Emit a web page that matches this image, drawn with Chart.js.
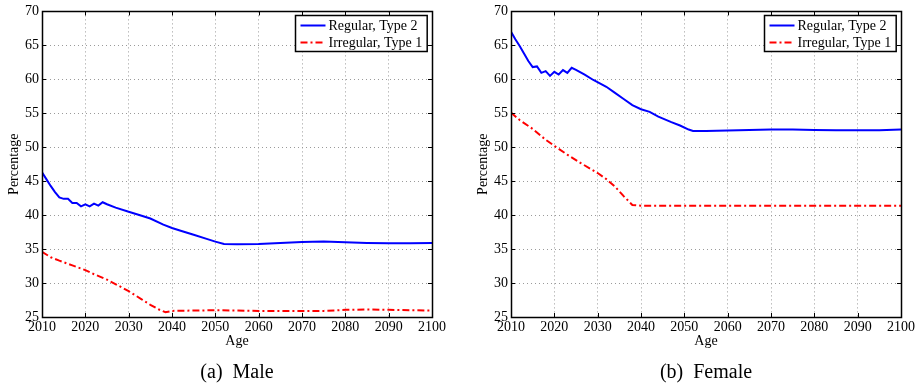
<!DOCTYPE html>
<html>
<head>
<meta charset="utf-8">
<script src="https://cdn.jsdelivr.net/npm/chart.js@4/dist/chart.umd.min.js"></script>
<style>
    body { margin: 0; background: #fff; }
    #wrap { position: relative; width: 918px; height: 390px; }
    canvas { position: absolute; top: 0; }
    .caption {
        position: absolute; top: 360px; width: 390px; text-align: center;
        font-family: "Liberation Serif", "DejaVu Serif", serif; font-size: 20px; color: #000;
        white-space: pre;
    }
</style>
</head>
<body>
<div id="wrap">
    <canvas id="chart_male" width="449" height="390" style="left:0px"></canvas>
    <canvas id="chart_female" width="449" height="390" style="left:469px"></canvas>
    <div class="caption" style="left:42px">(a)  Male</div>
    <div class="caption" style="left:511px">(b)  Female</div>
</div>
<script>
var seriesNames = ["Regular, Type 2", "Irregular, Type 1"];
var xTicks = [2010, 2020, 2030, 2040, 2050, 2060, 2070, 2080, 2090, 2100];
var yTicks = [25, 30, 35, 40, 45, 50, 55, 60, 65, 70];

// male
var maleRegYears = [2010, 2011, 2012, 2013, 2014, 2015, 2016, 2017, 2018, 2019, 2020, 2021, 2022, 2023, 2024, 2025,
    2027, 2030, 2033, 2035, 2038, 2040, 2042, 2045, 2048, 2050, 2052, 2055, 2060, 2065, 2070, 2075, 2080, 2085, 2090, 2095, 2100];
var maleRegValues = [46.3, 45.3, 44.3, 43.4, 42.6, 42.4, 42.4, 41.8, 41.8, 41.3, 41.6, 41.3, 41.7, 41.4, 41.9, 41.6,
    41.1, 40.5, 39.9, 39.5, 38.6, 38.1, 37.7, 37.1, 36.5, 36.1, 35.75, 35.7, 35.75, 35.9, 36.05, 36.1, 36.0, 35.9, 35.85, 35.85, 35.9];
var maleIrrYears = [2010, 2012, 2014, 2017, 2020, 2022, 2025, 2028, 2030, 2033, 2035, 2037, 2038.5, 2040, 2045, 2050,
    2055, 2060, 2065, 2070, 2075, 2080, 2085, 2090, 2095, 2100];
var maleIrrValues = [34.6, 33.8, 33.3, 32.6, 31.9, 31.3, 30.5, 29.5, 28.8, 27.6, 26.8, 26.1, 25.7, 25.9, 25.95, 26.0,
    25.95, 25.9, 25.9, 25.9, 25.9, 26.05, 26.1, 26.05, 26.0, 25.95];

// female
var femaleRegYears = [2010, 2011, 2012, 2013, 2014, 2015, 2016, 2017, 2018, 2019, 2020, 2021, 2022, 2023, 2024, 2025,
    2027, 2029, 2032, 2034, 2036, 2038, 2040, 2042, 2044, 2047, 2049, 2051, 2052, 2055, 2060, 2065, 2070, 2075, 2080, 2085, 2090, 2095, 2100];
var femaleRegValues = [67.0, 65.9, 64.9, 63.8, 62.7, 61.8, 61.9, 60.95, 61.2, 60.5, 61.1, 60.7, 61.35, 60.95, 61.7, 61.4,
    60.7, 59.9, 58.9, 58.0, 57.1, 56.2, 55.6, 55.2, 54.5, 53.7, 53.2, 52.6, 52.4, 52.4, 52.45, 52.55, 52.6, 52.6, 52.55, 52.5, 52.5, 52.5, 52.6];
var femaleIrrYears = [2010, 2012, 2015, 2018, 2020, 2023, 2026, 2030, 2032, 2034, 2036, 2038, 2040, 2050, 2060, 2070, 2080, 2090, 2100];
var femaleIrrValues = [55.1, 54.0, 52.7, 51.1, 50.2, 48.9, 47.7, 46.2, 45.3, 44.2, 42.8, 41.5, 41.4, 41.4, 41.4, 41.4, 41.4, 41.4, 41.4];

var serif = "'Liberation Serif', 'DejaVu Serif', serif";

function toPoints(xs, ys) {
    let pts = [];
    for (var i = 0; i < xs.length; i++) {
        pts.push({x: xs[i], y: ys[i]});
    }
    return pts;
}

// box round the plot area + inward ticks, like matlab
var framePlugin = {
    id: "frame",
    afterDatasetsDraw: function (chart) {
        var ctx = chart.ctx;
        var a = chart.chartArea;
        var xs = chart.scales.x, ys = chart.scales.y;
        ctx.save();
        ctx.strokeStyle = "#000";
        ctx.lineWidth = 1;
        ctx.setLineDash([]);
        ctx.beginPath();
        xTicks.forEach(function (t) {
            var px = Math.round(xs.getPixelForValue(t)) + 0.5;
            ctx.moveTo(px, a.bottom); ctx.lineTo(px, a.bottom - 4);
            ctx.moveTo(px, a.top); ctx.lineTo(px, a.top + 4);
        });
        yTicks.forEach(function (t) {
            var py = Math.round(ys.getPixelForValue(t)) + 0.5;
            ctx.moveTo(a.left, py); ctx.lineTo(a.left + 4, py);
            ctx.moveTo(a.right, py); ctx.lineTo(a.right - 4, py);
        });
        ctx.stroke();
        ctx.lineWidth = 1.5;
        ctx.strokeRect(Math.round(a.left) + 0.5, Math.round(a.top) + 0.5,
            Math.round(a.right - a.left), Math.round(a.bottom - a.top));
        ctx.restore();
    }
};

var legendBoxPlugin = {
    id: "legendBox",
    afterDraw: function (chart) {
        var ctx = chart.ctx;
        var a = chart.chartArea;
        ctx.save();
        ctx.font = "14px " + serif;
        var tw = 0;
        chart.data.datasets.forEach(function (ds) {
            tw = Math.max(tw, ctx.measureText(ds.label).width);
        });
        var w = 33 + tw + 5, h = 36;
        var x0 = Math.round(a.right - 5 - w) + 0.5, y0 = Math.round(a.top + 4) + 0.5;
        ctx.fillStyle = "#fff";
        ctx.fillRect(x0, y0, w, h);
        ctx.strokeStyle = "#000";
        ctx.lineWidth = 1.5;
        ctx.strokeRect(x0, y0, w, h);
        chart.data.datasets.forEach(function (ds, i) {
            var yy = y0 + 10 + i * 17;
            ctx.strokeStyle = ds.borderColor;
            ctx.lineWidth = 2;
            ctx.setLineDash(ds.borderDash || []);
            ctx.beginPath();
            ctx.moveTo(x0 + 5, yy);
            ctx.lineTo(x0 + 30, yy);
            ctx.stroke();
            ctx.setLineDash([]);
            ctx.fillStyle = "#000";
            ctx.textBaseline = "middle";
            ctx.fillText(ds.label, x0 + 33, yy + 1);
        });
        ctx.restore();
    }
};

function makeChart(id, regPts, irrPts) {
    var ctx = document.getElementById(id).getContext("2d");
    var gridStyle = {
        color: "#9a9a9a",
        lineWidth: 1,
        drawTicks: false,
        tickLength: 0
    };
    return new Chart(ctx, {
        type: "line",
        data: {
            datasets: [
                {
                    label: seriesNames[0],
                    data: regPts,
                    borderColor: "#0000ff",
                    borderWidth: 2,
                    pointRadius: 0,
                    tension: 0,
                    fill: false
                },
                {
                    label: seriesNames[1],
                    data: irrPts,
                    borderColor: "#ff0000",
                    borderWidth: 2,
                    borderDash: [7, 3, 2, 3],
                    pointRadius: 0,
                    tension: 0,
                    fill: false
                }
            ]
        },
        options: {
            responsive: false,
            animation: false,
            layout: {padding: {left: 0, right: 17, top: 10, bottom: 33}},
            plugins: {
                legend: {display: false},
                tooltip: {enabled: false}
            },
            scales: {
                x: {
                    type: "linear",
                    min: 2010,
                    max: 2100,
                    afterBuildTicks: function (scale) {
                        scale.ticks = xTicks.map(function (v) { return {value: v}; });
                    },
                    ticks: {
                        color: "#000",
                        font: {family: serif, size: 14},
                        padding: 2,
                        maxRotation: 0,
                        autoSkip: false,
                        callback: function (v) { return String(v); }
                    },
                    grid: gridStyle,
                    border: {display: false, dash: [1, 3]},
                    title: {
                        display: true,
                        text: "Age",
                        color: "#000",
                        font: {family: serif, size: 14},
                        padding: {top: 0, bottom: 7}
                    },
                    afterFit: function (scale) { scale.height = 40; }
                },
                y: {
                    min: 25,
                    max: 70,
                    afterBuildTicks: function (scale) {
                        scale.ticks = yTicks.map(function (v) { return {value: v}; });
                    },
                    ticks: {
                        color: "#000",
                        font: {family: serif, size: 14},
                        padding: 3
                    },
                    grid: gridStyle,
                    border: {display: false, dash: [1, 3]},
                    title: {
                        display: true,
                        text: "Percentage",
                        color: "#000",
                        font: {family: serif, size: 14},
                        padding: {top: 6, bottom: 0}
                    },
                    afterFit: function (scale) { scale.width = 42; }
                }
            }
        },
        plugins: [framePlugin, legendBoxPlugin]
    });
}

makeChart("chart_male", toPoints(maleRegYears, maleRegValues), toPoints(maleIrrYears, maleIrrValues));
makeChart("chart_female", toPoints(femaleRegYears, femaleRegValues), toPoints(femaleIrrYears, femaleIrrValues));
</script>
</body>
</html>
